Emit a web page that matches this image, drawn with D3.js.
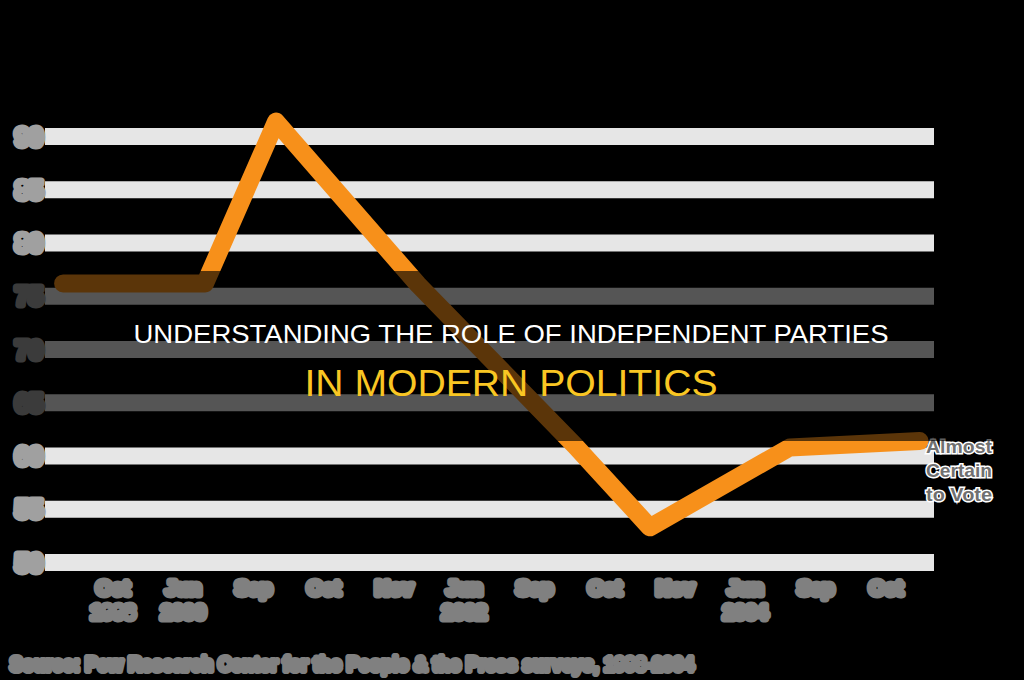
<!DOCTYPE html>
<html>
<head>
<meta charset="utf-8">
<script src="https://cdn.jsdelivr.net/npm/d3@7"></script>
<style>
  html, body { margin: 0; padding: 0; background: #000; }
  svg { display: block; }
</style>
</head>
<body>
<svg id="chart" width="1024" height="680"></svg>
<script>
// y tick values (one gridline each)
const yTicks = [50, 55, 60, 65, 70, 75, 80, 85, 90];

// x tick labels, "|" splits a label onto two lines
const xLabels = ["Oct|1998", "Jun|2000", "Sep", "Oct", "Nov", "Jun|2002", "Sep", "Oct", "Nov", "Jun|2004", "Sep", "Oct"];

// survey position (in label units) and share almost certain to vote
const waveX = [-0.71, 1.31, 2.32, 4.34, 6.57, 7.64, 9.63, 11.48];
const certainPct = [76.2, 76.2, 91.4, 76.1, 61.0, 53.3, 60.8, 61.4];

const seriesLabel = ["Almost", "Certain", "to Vote"];
const sourceNote = "Source: Pew Research Center for the People & the Press surveys, 1998-2004";
const titleTop = "UNDERSTANDING THE ROLE OF INDEPENDENT PARTIES";
const titleBottom = "IN MODERN POLITICS";

const svg = d3.select("#chart");

// background
svg.append("rect").attr("width", 1024).attr("height", 680).attr("fill", "#000");

// scales
const x = d3.scaleLinear().domain([0, 11]).range([113, 886]);
const y = d3.scaleLinear().domain([50, 90]).range([562.5, 136.5]);

// horizontal gridlines
svg.append("g").selectAll("line").data(yTicks).enter().append("line")
  .attr("x1", 45).attr("x2", 934)
  .attr("y1", d => y(d)).attr("y2", d => y(d))
  .attr("stroke", "#e6e6e6").attr("stroke-width", 17);

// y tick labels, heavy grey
svg.append("g").selectAll("text").data(yTicks).enter().append("text")
  .attr("x", 43).attr("y", d => y(d) + 9)
  .attr("text-anchor", "end")
  .attr("font-family", "Liberation Sans, Arial, sans-serif")
  .attr("font-weight", "bold").attr("font-size", 25)
  .attr("fill", "#a0a0a0").attr("stroke", "#a0a0a0").attr("stroke-width", 7)
  .attr("stroke-linejoin", "round")
  .text(d => d);

// x tick labels
const xl = svg.append("g").selectAll("text").data(xLabels).enter().append("text")
  .attr("x", (d, i) => x(i)).attr("y", 595)
  .attr("text-anchor", "middle")
  .attr("font-family", "Liberation Sans, Arial, sans-serif")
  .attr("font-weight", "bold").attr("font-size", 20)
  .attr("fill", "#808080").attr("stroke", "#808080").attr("stroke-width", 7)
  .attr("stroke-linejoin", "round");
xl.selectAll("tspan").data(d => d.split("|")).enter().append("tspan")
  .attr("x", function () { return d3.select(this.parentNode).attr("x"); })
  .attr("dy", (d, i) => i === 0 ? 0 : 24)
  .text(d => d);

// the line
const pts = waveX.map((v, i) => [v, certainPct[i]]);
const line = d3.line().x(d => x(d[0])).y(d => y(d[1]));
svg.append("path").datum(pts)
  .attr("d", line)
  .attr("fill", "none")
  .attr("stroke", "#f7901a").attr("stroke-width", 18)
  .attr("stroke-linejoin", "round").attr("stroke-linecap", "round");

// series label at the end of the line
svg.append("g").selectAll("text").data(seriesLabel).enter().append("text")
  .attr("x", 959).attr("y", (d, i) => 453 + i * 24)
  .attr("text-anchor", "middle")
  .attr("font-family", "Liberation Sans, Arial, sans-serif")
  .attr("font-weight", "bold").attr("font-size", 19)
  .attr("textLength", 66).attr("lengthAdjust", "spacingAndGlyphs")
  .attr("fill", "#707070").attr("stroke", "#fff").attr("stroke-width", 3)
  .attr("paint-order", "stroke")
  .text(d => d);

// source note
svg.append("text")
  .attr("x", 10).attr("y", 671)
  .attr("font-family", "Liberation Sans, Arial, sans-serif")
  .attr("font-weight", "bold").attr("font-size", 21)
  .attr("textLength", 684).attr("lengthAdjust", "spacingAndGlyphs")
  .attr("fill", "#808080").attr("stroke", "#808080").attr("stroke-width", 6)
  .attr("stroke-linejoin", "round")
  .text(sourceNote);

// dark title band
svg.append("rect")
  .attr("x", 0).attr("y", 271).attr("width", 1024).attr("height", 170)
  .attr("fill", "#000").attr("opacity", 0.63);

svg.append("text")
  .attr("x", 511).attr("y", 343)
  .attr("text-anchor", "middle")
  .attr("font-family", "Liberation Sans Narrow, Liberation Sans, Arial, sans-serif")
  .attr("font-size", 25)
  .attr("textLength", 755).attr("lengthAdjust", "spacingAndGlyphs")
  .attr("fill", "#fff")
  .text(titleTop);

svg.append("text")
  .attr("x", 511).attr("y", 396)
  .attr("text-anchor", "middle")
  .attr("font-family", "Liberation Sans Narrow, Liberation Sans, Arial, sans-serif")
  .attr("font-size", 37)
  .attr("textLength", 413).attr("lengthAdjust", "spacingAndGlyphs")
  .attr("fill", "#f9c623")
  .text(titleBottom);
</script>
</body>
</html>
